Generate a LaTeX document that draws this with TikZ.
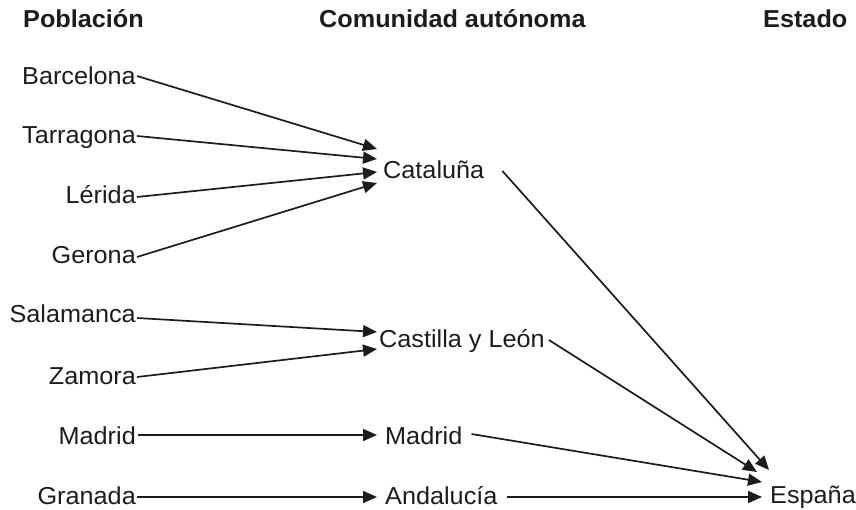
\documentclass[tikz,border=0pt]{standalone}
\usepackage{fontspec}
\setmainfont[FakeStretch=1.03]{Liberation Sans}
\usepackage{tikz}
\usetikzlibrary{arrows.meta,positioning,calc}
\definecolor{ink}{RGB}{30,27,28}
\tikzstyle{head}=[font=\fontsize{24.5}{28}\selectfont\bfseries,inner sep=0pt,text=ink]
\tikzstyle{place}=[font=\fontsize{24.5}{28}\selectfont,inner sep=0pt,text=ink]
\tikzstyle{link}=[-{Triangle[length=14pt,width=12pt]},line width=1.7pt,draw=ink]
\begin{document}
\begin{tikzpicture}[x=1pt,y=-1pt]
\useasboundingbox (0,0) rectangle (856,510);

% headers
\node[head,anchor=base west] (HPOB) at (23,28) {Población};
\node[head,anchor=base west] (HCOM) at (319,28) {Comunidad autónoma};
\node[head,anchor=base west] (HEST) at (763,28) {Estado};

% towns
\node[place,anchor=base east] (BAR) at (136,85) {Barcelona};
\node[place,anchor=base east] (TAR) at (136,144) {Tarragona};
\node[place,anchor=base east] (LER) at (136,204) {Lérida};
\node[place,anchor=base east] (GER) at (136,264) {Gerona};
\node[place,anchor=base east] (SAL) at (136,323) {Salamanca};
\node[place,anchor=base east] (ZAM) at (136,384) {Zamora};
\node[place,anchor=base east] (MAD) at (136,444) {Madrid};
\node[place,anchor=base east] (GRA) at (136,504) {Granada};

% regions
\node[place,anchor=base west] (CAT) at (383,179) {Cataluña};
\node[place,anchor=base west] (CYL) at (379,347) {Castilla y León};
\node[place,anchor=base west] (MADC) at (385,444) {Madrid};
\node[place,anchor=base west] (AND) at (385,504) {Andalucía};

% state
\node[place,anchor=base west] (ESP) at (770,503) {España};

\path
([xshift=1pt,yshift=9pt]BAR.base east) edge [link] ([xshift=-6pt,yshift=30pt]CAT.base west)
([xshift=1pt,yshift=8pt]TAR.base east) edge [link] ([xshift=-6pt,yshift=20pt]CAT.base west)
([xshift=1pt,yshift=7pt]LER.base east) edge [link] ([xshift=-6pt,yshift=7pt]CAT.base west)
([xshift=1pt,yshift=7pt]GER.base east) edge [link] ([xshift=-6pt,yshift=-4pt]CAT.base west)

([xshift=1pt,yshift=5pt]SAL.base east) edge [link] ([xshift=-2pt,yshift=15pt]CYL.base west)
([xshift=1pt,yshift=7pt]ZAM.base east) edge [link] ([xshift=-2pt,yshift=-2pt]CYL.base west)

([xshift=2pt,yshift=9pt]MAD.base east) edge [link] ([xshift=-8pt,yshift=9pt]MADC.base west)
([xshift=1pt,yshift=7pt]GRA.base east) edge [link] ([xshift=-8pt,yshift=7pt]AND.base west)

([xshift=18pt,yshift=8pt]CAT.base east) edge [link] ([xshift=-1pt,yshift=33pt]ESP.base west)
([xshift=4pt,yshift=7pt]CYL.base east) edge [link] ([xshift=-13pt,yshift=31pt]ESP.base west)
([xshift=9pt,yshift=10pt]MADC.base east) edge [link] ([xshift=-8pt,yshift=21pt]ESP.base west)
([xshift=9pt,yshift=7pt]AND.base east) edge [link] ([xshift=-8pt,yshift=6pt]ESP.base west);

\end{tikzpicture}
\end{document}
